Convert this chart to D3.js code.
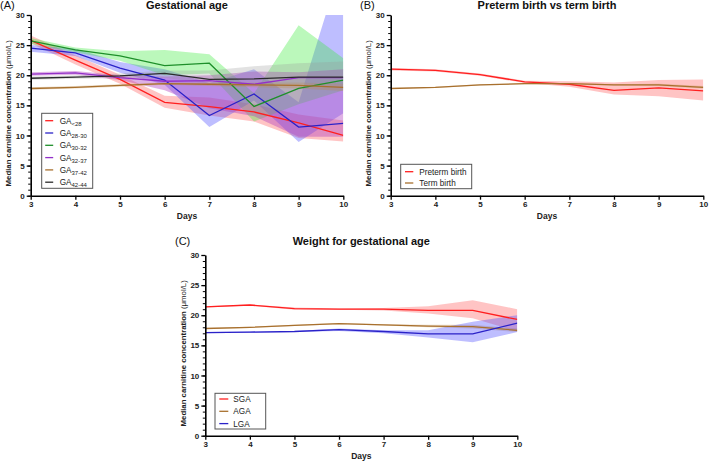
<!DOCTYPE html>
<html><head><meta charset="utf-8">
<script src="https://cdn.jsdelivr.net/npm/d3@7"></script>
<style>
body{margin:0;background:#fff;}
svg{display:block;font-family:"Liberation Sans",Arial,sans-serif;}
</style></head>
<body><svg id="c" width="709" height="462"></svg>
<script>
const days = [3,4,5,6,7,8,9,10];
const yTicks = [0,5,10,15,20,25,30];
const yMinorTicks = d3.range(0,31,1);

// Panel A: Gestational age
const gaNames = ["<28","28-30","30-32","32-37","37-42","42-44"];
const gaLt28Med = [25.8,22.5,19.3,15.5,14.8,13.9,12.1,10.0];
const gaLt28Lo  = [25.3,21.8,18.6,14.6,13.3,12.3,9.6,9.0];
const gaLt28Hi  = [26.6,23.3,20.1,16.6,16.3,15.2,13.5,12.5];
const ga2830Med = [24.5,23.7,21.2,19.2,13.3,16.9,11.4,12.0];
const ga2830Lo  = [23.9,23.2,20.4,18.4,11.4,15.8,8.9,13.7];
const ga2830Hi  = [25.0,24.4,22.2,21.0,18.7,21.0,15.5,39.5];
const ga3032Med = [25.7,24.2,23.2,21.6,22.0,14.8,17.8,19.2];
const ga3032Lo  = [25.2,23.8,22.4,20.0,20.3,12.3,15.2,17.5];
const ga3032Hi  = [26.2,24.6,24.0,24.2,23.5,17.0,28.3,22.8];
const ga3237Med = [20.2,20.4,19.6,19.0,19.1,18.5,19.6,19.6];
const ga3237Lo  = [19.9,20.1,19.2,17.5,14.5,13.2,9.8,9.8];
const ga3237Hi  = [20.5,20.7,20.0,19.8,20.0,20.6,20.5,21.0];
const ga3742Med = [17.8,18.0,18.3,18.6,18.5,18.4,18.3,18.0];
const ga3742Lo  = [17.6,17.8,18.1,18.4,18.2,18.0,17.8,17.4];
const ga3742Hi  = [18.0,18.2,18.5,18.8,18.8,18.8,18.8,18.6];
const ga4244Med = [19.5,19.7,19.9,20.3,19.3,19.4,19.7,19.7];
const ga4244Lo  = [19.2,19.4,19.5,19.6,18.6,18.4,18.6,18.4];
const ga4244Hi  = [19.8,20.0,20.3,20.8,20.8,21.5,22.0,22.3];

// Panel B: Preterm vs term
const ptNames = ["Preterm birth","Term birth"];
const pretermMed = [21.0,20.8,20.1,18.9,18.5,17.5,17.9,17.4];
const pretermLo  = [20.8,20.6,19.9,18.7,18.1,16.8,16.5,15.8];
const pretermHi  = [21.2,21.0,20.3,19.1,19.0,18.8,19.2,19.3];
const termMed = [17.8,18.0,18.4,18.6,18.6,18.4,18.4,18.0];
const termLo  = [17.7,17.9,18.3,18.5,18.5,18.3,18.2,17.8];
const termHi  = [17.9,18.1,18.5,18.7,18.7,18.5,18.6,18.2];

// Panel C: Weight for gestational age
const wgaNames = ["SGA","AGA","LGA"];
const sgaMed = [21.4,21.7,21.1,21.0,21.0,20.8,20.8,19.3];
const sgaLo  = [21.3,21.6,20.9,20.9,20.8,20.3,19.5,17.3];
const sgaHi  = [21.5,21.8,21.3,21.1,21.2,21.5,22.5,21.0];
const agaMed = [17.8,18.0,18.3,18.6,18.4,18.2,18.1,17.5];
const agaLo  = [17.7,17.9,18.2,18.5,18.3,18.0,17.8,17.2];
const agaHi  = [17.9,18.1,18.4,18.7,18.5,18.4,18.4,17.8];
const lgaMed = [17.1,17.2,17.3,17.6,17.3,16.9,16.9,18.7];
const lgaLo  = [17.0,17.1,17.2,17.4,17.0,16.3,15.5,17.2];
const lgaHi  = [17.2,17.3,17.4,17.8,17.5,17.5,18.9,20.0];

const C = {
  red:{line:"#ff1f1f", band:"rgba(255,70,70,0.32)"},
  blue:{line:"#2a22c8", band:"rgba(70,70,255,0.35)"},
  green:{line:"#1e8f2a", band:"rgba(60,235,60,0.35)"},
  purple:{line:"#9230c8", band:"rgba(175,60,190,0.40)"},
  brown:{line:"#a8702e", band:"rgba(190,140,70,0.30)"},
  black:{line:"#2b2b2b", band:"rgba(150,150,150,0.28)"}
};

const svg = d3.select("#c");

function panel(o){
  const x = d3.scaleLinear().domain([3,10]).range([o.x0,o.x1]);
  const y = d3.scaleLinear().domain([0,30]).range([o.y0,o.y1]);
  const g = svg.append("g");
  const cid = "clip"+o.id;
  svg.append("clipPath").attr("id",cid).append("rect")
    .attr("x",o.x0).attr("y",o.y1).attr("width",o.x1-o.x0).attr("height",o.y0-o.y1);
  const plot = g.append("g").attr("clip-path",`url(#${cid})`);
  const area = d3.area().x((d,i)=>x(days[i])).y0(d=>y(d[0])).y1(d=>y(d[1]));
  const line = d3.line().x((d,i)=>x(days[i])).y(d=>y(d));
  o.series.forEach(s=>{
    plot.append("path").datum(s.lo.map((v,i)=>[v,s.hi[i]]))
      .attr("d",area).attr("fill",C[s.c].band).attr("stroke","none");
  });
  o.series.forEach(s=>{
    plot.append("path").datum(s.med).attr("d",line)
      .attr("fill","none").attr("stroke",C[s.c].line).attr("stroke-width",1.3);
  });
  // axes
  const yMinor = g.append("g").attr("transform",`translate(${o.x0},0)`)
    .call(d3.axisLeft(y).tickValues(yMinorTicks).tickSize(2.5).tickFormat(""));
  yMinor.select(".domain").remove();
  yMinor.selectAll("line").attr("stroke","#000").attr("stroke-width",1);
  const ya = g.append("g").attr("transform",`translate(${o.x0},0)`)
    .call(d3.axisLeft(y).tickValues(yTicks).tickSize(4).tickPadding(2).tickSizeOuter(0));
  ya.select(".domain").attr("stroke","#000").attr("stroke-width",1.6);
  ya.selectAll("line").attr("stroke","#000").attr("stroke-width",1.3);
  ya.selectAll("text").attr("font-size",8).attr("font-weight","bold").attr("fill","#222");
  const xa = g.append("g").attr("transform",`translate(0,${o.y0})`)
    .call(d3.axisBottom(x).tickValues(days).tickFormat(d3.format("d")).tickSize(4).tickPadding(2).tickSizeOuter(0));
  xa.select(".domain").attr("stroke","#000").attr("stroke-width",1.6);
  xa.selectAll("line").attr("stroke","#000").attr("stroke-width",1.3);
  xa.selectAll("text").attr("font-size",8).attr("font-weight","bold").attr("fill","#222");
  // titles
  g.append("text").attr("x",(o.x0+o.x1)/2).attr("y",o.y1-o.titleDy).attr("text-anchor","middle")
    .attr("font-size",11).attr("font-weight","bold").attr("fill","#111").text(o.title);
  g.append("text").attr("x",o.labX).attr("y",o.y1-o.titleDy+0.5).attr("font-size",11).attr("fill","#111").text(o.label);
  g.append("text").attr("x",(o.x0+o.x1)/2).attr("y",o.y0+23).attr("text-anchor","middle")
    .attr("font-size",8.5).attr("font-weight","bold").attr("fill","#222").text("Days");
  const yl = g.append("text").attr("transform",`translate(${o.ylx},${(o.y0+o.y1)/2+8}) rotate(-90)`)
    .attr("text-anchor","middle").attr("font-size",7.8).attr("font-weight","bold").attr("fill","#222");
  yl.append("tspan").text("Median carnitine concentration ");
  yl.append("tspan").attr("font-weight","normal").text("(μmol/L)");
  // legend
  const L = o.legend;
  g.append("rect").attr("x",L.x).attr("y",L.y).attr("width",L.w).attr("height",L.h)
    .attr("fill","#fff").attr("stroke","#555").attr("stroke-width",1);
  o.series.forEach((s,i)=>{
    const yy = L.y + L.first + i*L.step;
    g.append("line").attr("x1",L.x+L.sx0).attr("x2",L.x+L.sx1).attr("y1",yy).attr("y2",yy)
      .attr("stroke",C[s.c].line).attr("stroke-width",1.3);
    const t = g.append("text").attr("x",L.x+L.tx).attr("y",yy+3).attr("font-size",8.2).attr("fill","#222");
    if(s.sub!==undefined){
      t.append("tspan").text("GA");
      t.append("tspan").attr("font-size",6).attr("dy",2).text(s.sub);
    } else t.text(s.name);
  });
}

panel({id:"A", x0:30.7, x1:343.3, y0:195.7, y1:15, title:"Gestational age", titleDy:6.5, label:"(A)", labX:0, ylx:11,
  series:[
    {sub:gaNames[0], c:"red", med:gaLt28Med, lo:gaLt28Lo, hi:gaLt28Hi},
    {sub:gaNames[1], c:"blue", med:ga2830Med, lo:ga2830Lo, hi:ga2830Hi},
    {sub:gaNames[2], c:"green", med:ga3032Med, lo:ga3032Lo, hi:ga3032Hi},
    {sub:gaNames[3], c:"purple", med:ga3237Med, lo:ga3237Lo, hi:ga3237Hi},
    {sub:gaNames[4], c:"brown", med:ga3742Med, lo:ga3742Lo, hi:ga3742Hi},
    {sub:gaNames[5], c:"black", med:ga4244Med, lo:ga4244Lo, hi:ga4244Hi}
  ],
  legend:{x:41.7,y:113.3,w:51,h:75,first:7.4,step:12.3,sx0:3.5,sx1:11.5,tx:18}
});

panel({id:"B", x0:390.7, x1:703.3, y0:195.7, y1:15, title:"Preterm birth vs term birth", titleDy:6.5, label:"(B)", labX:360, ylx:371,
  series:[
    {name:ptNames[0], c:"red", med:pretermMed, lo:pretermLo, hi:pretermHi},
    {name:ptNames[1], c:"brown", med:termMed, lo:termLo, hi:termHi}
  ],
  legend:{x:400.7,y:164.3,w:71,h:24.4,first:7.4,step:11.3,sx0:4.3,sx1:12.6,tx:18.6}
});

panel({id:"C", x0:205.3, x1:517.3, y0:435.7, y1:255, title:"Weight for gestational age", titleDy:10.5, label:"(C)", labX:175, ylx:186,
  series:[
    {name:wgaNames[0], c:"red", med:sgaMed, lo:sgaLo, hi:sgaHi},
    {name:wgaNames[1], c:"brown", med:agaMed, lo:agaLo, hi:agaHi},
    {name:wgaNames[2], c:"blue", med:lgaMed, lo:lgaLo, hi:lgaHi}
  ],
  legend:{x:215,y:393.3,w:50.7,h:35.7,first:5.7,step:12.3,sx0:4.3,sx1:13.3,tx:18.3}
});
</script></body></html>
